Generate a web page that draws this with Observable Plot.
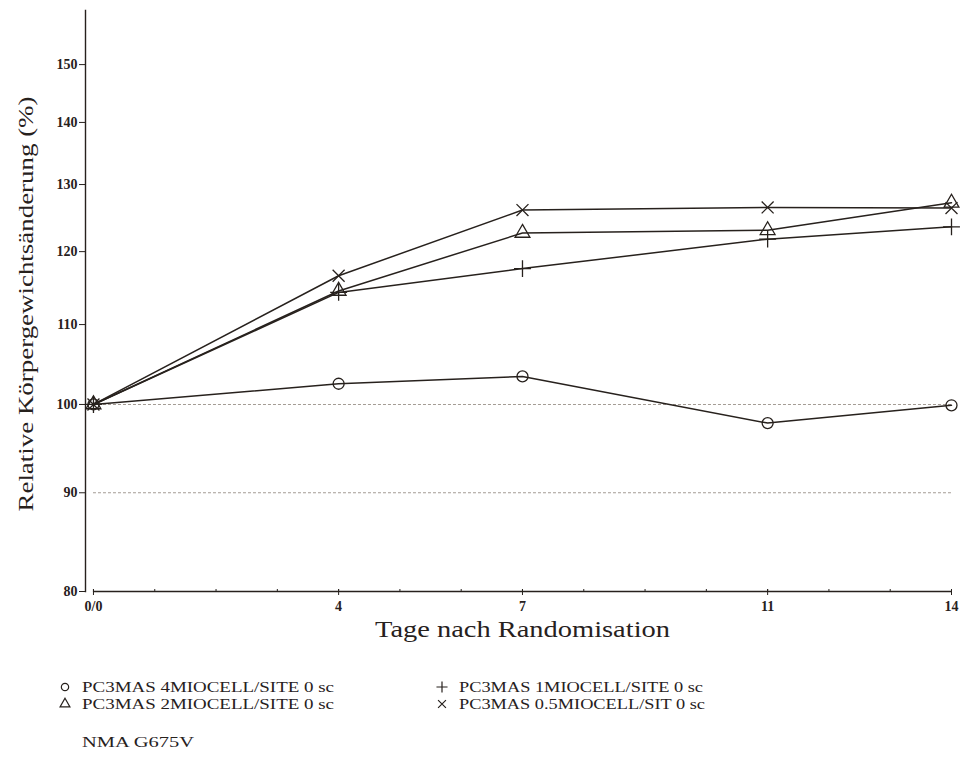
<!DOCTYPE html>
<html><head><meta charset="utf-8">
<script src="https://cdn.jsdelivr.net/npm/d3@7"></script>
<script src="https://cdn.jsdelivr.net/npm/@observablehq/plot@0.6"></script>
<style>
body{margin:0;background:#fff;}
#wrap{position:relative;width:965px;height:766px;font-family:"Liberation Serif",serif;color:#221d1a;overflow:hidden;}
#wrap svg{overflow:visible;}
#legend{position:absolute;left:0;top:660px;}
</style></head><body><div id="wrap"></div>
<script>
const days = [0, 4, 7, 11, 14];
const seriesNames = ["PC3MAS 4MIOCELL/SITE 0 sc", "PC3MAS 2MIOCELL/SITE 0 sc", "PC3MAS 1MIOCELL/SITE 0 sc", "PC3MAS 0.5MIOCELL/SIT 0 sc"];
const seriesSymbols = ["circle", "triangle", "plus", "times"];
const v4MIO = [100, 102.5, 103.4, 97.8, 99.9];
const v2MIO = [100, 114.5, 122.7, 123.1, 127.2];
const v1MIO = [100, 114.3, 117.6, 121.8, 123.6];
const v05MIO = [100, 116.6, 126.1, 126.5, 126.4];
const yTicks = [80, 90, 100, 110, 120, 130, 140, 150];
const xMinorTicks = d3.range(0, 15);
const xMajorTicks = [0, 4, 7, 11, 14];
const xTickLabels = ["0/0", "4", "7", "11", "14"];
const refLines = [100, 90];
const yTitle = "Relative Körpergewichtsänderung (%)";
const xTitle = "Tage nach Randomisation";
const footnote = "NMA  G675V";

const allValues = [v4MIO, v2MIO, v1MIO, v05MIO];
const data = [];
allValues.forEach((vals, i) => vals.forEach((v, j) => data.push({series: seriesNames[i], day: days[j], value: v})));

const ink = "#27211d";
const chart = Plot.plot({
  width: 965, height: 660,
  marginLeft: 85, marginRight: 14, marginTop: 10, marginBottom: 69,
  style: {fontFamily: "Liberation Serif, serif", fontSize: "14px", color: ink, background: "#fff"},
  x: {domain: [-0.13, 14], label: null},
  y: {type: "log", domain: [80, 160], label: null},
  symbol: {domain: seriesNames, range: seriesSymbols},
  marks: [
    Plot.ruleY(refLines, {x1: 0, x2: 14, stroke: "#a49c95", strokeWidth: 1.1, strokeDasharray: "3,2"}),
    Plot.frame({anchor: "left", stroke: ink, strokeWidth: 1.4}),
    Plot.ruleY([{y: 80, a: xMinorTicks[0], b: xMinorTicks[xMinorTicks.length - 1]}], {y: "y", x1: "a", x2: "b", stroke: ink, strokeWidth: 1.4}),
    Plot.axisY({ticks: yTicks, tickSize: 6, tickPadding: 2, label: null, stroke: ink, fill: ink, fontSize: 14, fontWeight: "bold", tickFormat: d => String(d)}),
    Plot.axisX({ticks: xMinorTicks, tickSize: 3, tickFormat: () => "", label: null, stroke: ink, anchor: "bottom", dy: -2}),
    Plot.axisX({ticks: xMajorTicks, tickSize: 6, tickPadding: 6, label: null, stroke: ink, fill: ink, fontSize: 14, fontWeight: "bold", anchor: "bottom", dy: -2,
      tickFormat: d => xTickLabels[xMajorTicks.indexOf(d)]}),
    Plot.line(data, {x: "day", y: "value", z: "series", stroke: ink, strokeWidth: 1.5}),
    Plot.dot(data, {x: "day", y: "value", symbol: "series", stroke: ink, fill: "none", strokeWidth: 1.3, r: 5.5}),
    Plot.text([yTitle], {frameAnchor: "left", dx: -60, dy: 3, rotate: -90, fontSize: 22, fill: ink, className: "ytitle"}),
    Plot.text([xTitle], {frameAnchor: "bottom", dy: 45, dx: 4, fontSize: 24, fill: ink, className: "xtitle"})
  ]
});
const wrap = document.getElementById("wrap");
wrap.appendChild(chart);
chart.querySelectorAll(".ytitle text").forEach(t => {
  t.setAttribute("text-anchor", "start");
  t.setAttribute("x", -207.5);
  t.setAttribute("textLength", 415);
  t.setAttribute("lengthAdjust", "spacingAndGlyphs");
});
chart.querySelectorAll(".xtitle text").forEach(t => { t.setAttribute("textLength", 295); t.setAttribute("lengthAdjust", "spacingAndGlyphs"); });

// Legend below the chart
const ns = "http://www.w3.org/2000/svg";
const leg = document.createElementNS(ns, "svg");
leg.setAttribute("id", "legend");
leg.setAttribute("width", 965);
leg.setAttribute("height", 106);
const legPos = [[65, 27], [65, 44], [442, 27], [442, 44]];
const legLen = [252, 252, 244, 246];
seriesNames.forEach((name, i) => {
  const [x, y] = legPos[i];
  const sym = d3.symbol(({circle: d3.symbolCircle, triangle: d3.symbolTriangle, plus: d3.symbolPlus, times: d3.symbolTimes})[seriesSymbols[i]], 42)();
  const p = document.createElementNS(ns, "path");
  p.setAttribute("d", sym);
  p.setAttribute("transform", `translate(${x},${y})`);
  p.setAttribute("fill", "none");
  p.setAttribute("stroke", ink);
  p.setAttribute("stroke-width", 1.2);
  leg.appendChild(p);
  const t = document.createElementNS(ns, "text");
  t.setAttribute("x", x + 17);
  t.setAttribute("y", y + 5);
  t.setAttribute("font-size", 15);
  t.setAttribute("fill", ink);
  t.setAttribute("textLength", legLen[i]);
  t.setAttribute("lengthAdjust", "spacingAndGlyphs");
  t.textContent = name;
  leg.appendChild(t);
});
const fn = document.createElementNS(ns, "text");
fn.setAttribute("x", 82);
fn.setAttribute("y", 87);
fn.setAttribute("font-size", 14);
fn.setAttribute("fill", ink);
fn.setAttribute("textLength", 112);
fn.setAttribute("lengthAdjust", "spacingAndGlyphs");
fn.textContent = footnote;
leg.appendChild(fn);
wrap.appendChild(leg);
</script>
</body></html>
